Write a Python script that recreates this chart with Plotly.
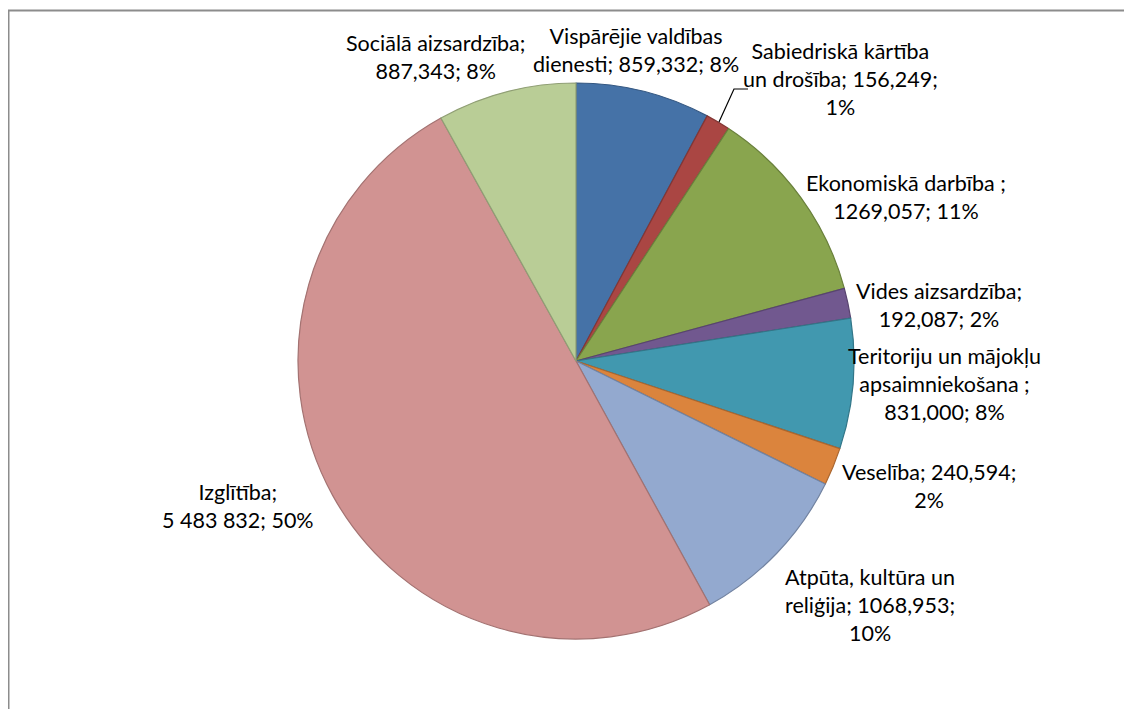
import plotly.graph_objects as go

# ---- data ----
categories = [
    "Vispārējie valdības dienesti",
    "Sabiedriskā kārtība un drošība",
    "Ekonomiskā darbība",
    "Vides aizsardzība",
    "Teritoriju un mājokļu apsaimniekošana",
    "Veselība",
    "Atpūta, kultūra un reliģija",
    "Izglītība",
    "Sociālā aizsardzība",
]
values = [859.332, 156.249, 1269.057, 192.087, 831.000, 240.594, 1068.953, 5483.832, 887.343]
label_texts = [
    "Vispārējie valdības<br>dienesti; 859,332; 8%",
    "Sabiedriskā kārtība<br>un drošība; 156,249;<br>1%",
    "Ekonomiskā darbība ;<br>1269,057; 11%",
    "Vides aizsardzība;<br>192,087; 2%",
    "Teritoriju un mājokļu<br>apsaimniekošana ;<br>831,000; 8%",
    "Veselība; 240,594;<br>2%",
    "Atpūta, kultūra un<br>reliģija; 1068,953;<br>10%",
    "Izglītība;<br>5 483 832; 50%",
    "Sociālā aizsardzība;<br>887,343; 8%",
]
colors = ["#4572A7", "#AA4643", "#89A54E", "#71588F", "#4198AF",
          "#DB843D", "#93A9CF", "#D19392", "#B9CD96"]

W, H = 1132, 709
OFF = 8  # page body margin offset
# label centre positions in screen pixels (x, y from top)
label_pos = [(636, 50), (840, 79), (906, 197), (939, 305), (944, 384),
             (929, 486), (870, 605), (238, 506), (435, 57)]
cx, cy, r = 576, 361, 278


def px(x):
    return (x - OFF) / W


def py(y):
    return 1 - (y - OFF) / H


def darker(hexc, f=0.78):
    h = hexc.lstrip("#")
    rgb = [int(h[i:i + 2], 16) for i in (0, 2, 4)]
    return "rgb(%d,%d,%d)" % tuple(int(c * f) for c in rgb)


fig = go.Figure(go.Pie(
    labels=categories,
    values=values,
    sort=False,
    direction="clockwise",
    rotation=0,
    marker=dict(colors=colors, line=dict(color=[darker(c) for c in colors], width=1.2)),
    textinfo="none",
    hoverinfo="label+value+percent",
    showlegend=False,
    domain=dict(x=[px(cx - r), px(cx + r)], y=[py(cy + r), py(cy - r)]),
))

annotations = []
for txt, (lx, ly) in zip(label_texts, label_pos):
    annotations.append(dict(
        text=txt, x=px(lx), y=py(ly), xref="paper", yref="paper",
        xanchor="center", yanchor="middle", align="center", showarrow=False,
        font=dict(family="Lato, Carlito, Calibri, sans-serif", size=21.5, color="#000000"),
    ))

shapes = [
    # chart frame (cropped on right/bottom)
    dict(type="rect", xref="paper", yref="paper", x0=px(8.5), y0=-0.02, x1=1.02, y1=py(10.5),
         line=dict(color="#8C8C8C", width=2), fillcolor="rgba(0,0,0,0)", layer="below"),
    # leader line for small slice label
    dict(type="path", xref="paper", yref="paper",
         path="M %f %f L %f %f L %f %f" % (px(719), py(122), px(734), py(89), px(748), py(89)),
         line=dict(color="#000000", width=1.2)),
]

fig.update_layout(
    width=W, height=H,
    margin=dict(l=0, r=0, t=0, b=0),
    paper_bgcolor="white", plot_bgcolor="white",
    annotations=annotations, shapes=shapes,
)
fig.write_html("out.html")
